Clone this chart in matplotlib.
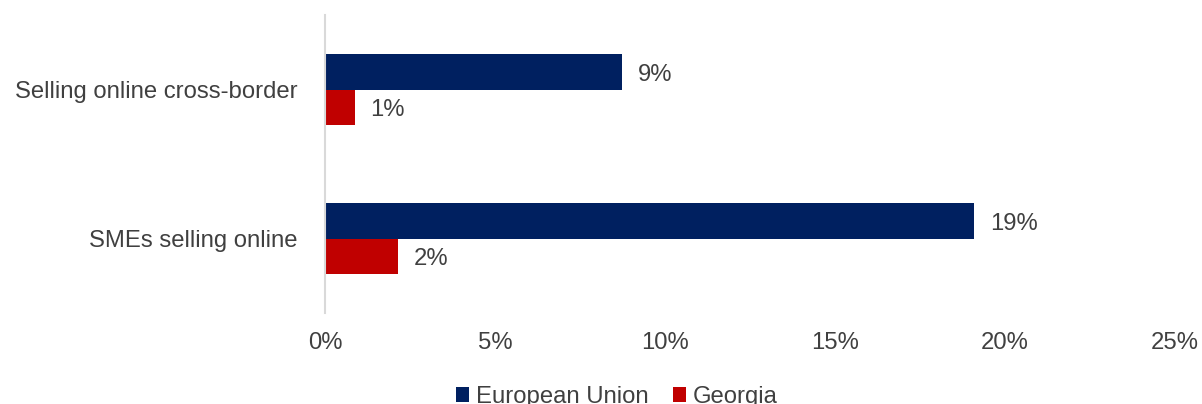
import matplotlib
matplotlib.use("Agg")
import matplotlib.pyplot as plt
from matplotlib.patches import Patch

plt.rcParams['font.family'] = ['Liberation Sans', 'DejaVu Sans']

categories = ["Selling online cross-border", "SMEs selling online"]
series_names = ["European Union", "Georgia"]
eu_values = [8.74, 19.1]
georgia_values = [0.88, 2.15]
x_ticks = [0, 5, 10, 15, 20, 25]
x_tick_labels = ["0%", "5%", "10%", "15%", "20%", "25%"]

colors = ["#002060", "#C00000"]
text_color = "#404040"
fs = 17.2
W, H = 1202, 404

fig = plt.figure(figsize=(W / 100, H / 100), dpi=100)
ax = fig.add_axes([325 / W, (H - 313) / H, 850 / W, 298 / H])

bar_h = 0.235
ypos = list(range(len(categories)))
for i, (vals, col) in enumerate(zip([eu_values, georgia_values], colors)):
    offs = [y - bar_h / 2 if i == 0 else y + bar_h / 2 for y in ypos]
    bars = ax.barh(offs, vals, height=bar_h, color=col, edgecolor="none")
    for b, v in zip(bars, vals):
        ax.annotate(f"{round(v):.0f}%", (b.get_width(), b.get_y() + b.get_height() / 2),
                    xytext=(11, -2), textcoords="offset points", va="center", ha="left",
                    fontsize=fs, color=text_color)

ax.set_xlim(0, 25)
ax.set_ylim(len(categories) - 0.5, -0.5)
ax.set_yticks(ypos)
ax.set_yticklabels(categories, fontsize=fs, color=text_color)
ax.set_xticks(x_ticks)
ax.set_xticklabels(x_tick_labels, fontsize=fs, color=text_color)
ax.tick_params(axis="both", length=0)
ax.tick_params(axis="y", pad=20)
ax.tick_params(axis="x", pad=14)
for side in ["top", "right", "bottom"]:
    ax.spines[side].set_visible(False)
ax.spines["left"].set_color("#D9D9D9")
ax.spines["left"].set_linewidth(1.5)

handles = [Patch(facecolor=c, edgecolor="none") for c in colors]
fig.legend(handles, series_names, loc="center", bbox_to_anchor=(617 / W, (H - 397) / H),
           ncol=2, frameon=False, fontsize=fs, handlelength=0.55, handleheight=0.55,
           handletextpad=0.3, columnspacing=1.0, labelcolor=text_color, borderpad=0)

fig.savefig("out.png", dpi=100)
